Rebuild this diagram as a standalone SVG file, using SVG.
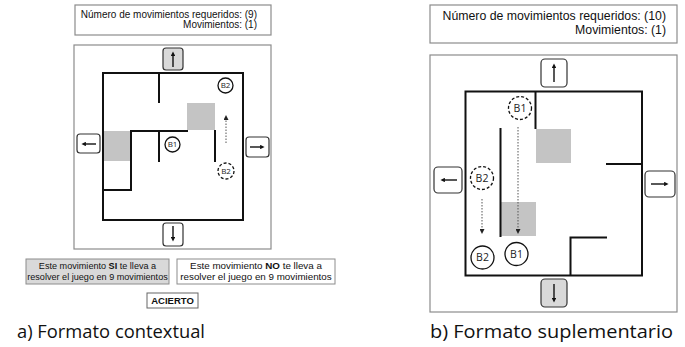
<svg xmlns="http://www.w3.org/2000/svg" width="685" height="347" viewBox="0 0 685 347">
<style>
.panel{fill:#fff;stroke:#8c8c8c;stroke-width:1.2}
.wall{stroke:#111;stroke-width:2;fill:none;stroke-linecap:square}
.maze{fill:none;stroke:#111;stroke-width:2}
.sq{fill:#c4c4c4}
.btn{fill:#fff;stroke:#333;stroke-width:1.2}
.btnsel{fill:#d9d9d9;stroke:#333;stroke-width:1.2}
.arr{stroke:#111;stroke-width:1.4;fill:none;marker-end:url(#ah)}
.dot{stroke:#555;stroke-width:1;stroke-dasharray:1.5,1.5;fill:none;marker-end:url(#ahd)}
.ball{fill:#fff;stroke:#111;stroke-width:1.3}
.ballg{fill:#fff;stroke:#111;stroke-width:1.3;stroke-dasharray:3,2}
.bl{font-family:"Open Sans",sans-serif;fill:#222;text-anchor:middle}
.t{font-family:"Liberation Sans",Arial,sans-serif;fill:#111}
.cap{font-family:"Open Sans",sans-serif;fill:#111;font-size:18.5px}
</style>
<defs>
<marker id="ah" viewBox="0 0 10 10" refX="2" refY="5" markerWidth="3.2" markerHeight="3.2" orient="auto" markerUnits="strokeWidth"><path d="M0,0 L10,5 L0,10 z" fill="#111"/></marker>
<marker id="ahd" viewBox="0 0 10 10" refX="2" refY="5" markerWidth="5" markerHeight="5" orient="auto" markerUnits="strokeWidth"><path d="M0,0 L10,5 L0,10 z" fill="#222"/></marker>
</defs>

<!-- Panel a -->
<g id="a-counter">
<rect class="panel" x="75" y="5" width="196" height="30"/>
<text class="t" font-size="10" text-anchor="end" x="257" y="17.5">Número de movimientos requeridos: (9)</text>
<text class="t" font-size="10" text-anchor="end" x="257" y="27.5">Movimientos: (1)</text>
</g>
<g id="a-board">
<rect class="panel" x="74" y="45" width="197" height="204"/>
<rect class="sq" x="187" y="103" width="28" height="27"/>
<rect class="sq" x="104" y="131" width="26" height="30"/>
<rect class="maze" x="103" y="73" width="140" height="147"/>
<path class="wall" d="M159,73 V102 M131,131 H187 M131,131 V190 H103 M159,131 V161 M215,131 V161"/>
</g>
<g id="a-btn-up"><rect class="btnsel" x="163" y="48" width="20" height="22" rx="3"/><line class="arr" x1="173" y1="67" x2="173" y2="55"/></g>
<g id="a-btn-down"><rect class="btn" x="163" y="223" width="20" height="23" rx="3"/><line class="arr" x1="173" y1="226" x2="173" y2="238"/></g>
<g id="a-btn-left"><rect class="btn" x="77" y="134" width="23" height="19" rx="3"/><line class="arr" x1="96" y1="144" x2="85" y2="144"/></g>
<g id="a-btn-right"><rect class="btn" x="246" y="137" width="23" height="20" rx="3"/><line class="arr" x1="250" y1="147" x2="261" y2="147"/></g>
<g id="a-B2"><circle class="ball" cx="225.5" cy="85.5" r="7.5"/><text class="bl" font-size="8" x="225.5" y="88.3">B2</text></g>
<g id="a-B1"><circle class="ball" cx="172.5" cy="144.5" r="7.5"/><text class="bl" font-size="8" x="172.5" y="147.3">B1</text></g>
<g id="a-B2-ghost"><circle class="ballg" cx="226" cy="171" r="8"/><text class="bl" font-size="8" x="226" y="173.8">B2</text></g>
<g id="a-connectors"><line class="dot" x1="226" y1="143" x2="226" y2="119"/></g>
<g id="a-btn-si">
<rect x="26" y="259" width="143" height="25" fill="#d9d9d9" stroke="#8c8c8c" stroke-width="1"/>
<text class="t" font-size="9.1" text-anchor="middle" x="97.5" y="268.5">Este movimiento <tspan font-weight="bold">SI</tspan> te lleva a</text>
<text class="t" font-size="9.1" text-anchor="middle" x="97.5" y="279.5">resolver el juego en 9 movimientos</text>
</g>
<g id="a-btn-no">
<rect x="177" y="259" width="158" height="25" fill="#fff" stroke="#8c8c8c" stroke-width="1"/>
<text class="t" font-size="9.8" text-anchor="middle" x="256" y="268.5">Este movimiento <tspan font-weight="bold">NO</tspan> te lleva a</text>
<text class="t" font-size="9.8" text-anchor="middle" x="256" y="279.5">resolver el juego en 9 movimientos</text>
</g>
<g id="a-acierto">
<rect x="147" y="293" width="51" height="15" fill="#fff" stroke="#666" stroke-width="1"/>
<text class="t" font-size="9.5" font-weight="bold" text-anchor="middle" x="172.5" y="304">ACIERTO</text>
</g>
<text class="cap" x="17" y="338" textLength="188" lengthAdjust="spacingAndGlyphs">a) Formato contextual</text>

<!-- Panel b -->
<g id="b-counter">
<rect class="panel" x="430" y="5" width="247" height="38"/>
<text class="t" font-size="12.3" text-anchor="end" x="666" y="19.7">Número de movimientos requeridos: (10)</text>
<text class="t" font-size="12.3" text-anchor="end" x="666" y="33.5">Movimientos: (1)</text>
</g>
<g id="b-board">
<rect class="panel" x="430" y="55" width="247" height="257"/>
<rect class="sq" x="536" y="129" width="35" height="34"/>
<rect class="sq" x="501" y="202" width="35" height="34"/>
<rect class="maze" x="465.5" y="91.5" width="176.5" height="184" stroke-width="2.2"/>
<path class="wall" stroke-width="2.2" d="M535.5,92 V128 M500.5,129 V236 M607,164 H642 M570.5,275 V237.5 H606"/>
</g>
<g id="b-btn-up"><rect class="btn" x="541" y="59" width="26" height="28" rx="4"/><line class="arr" x1="554" y1="82" x2="554" y2="67"/></g>
<g id="b-btn-down"><rect class="btnsel" x="541" y="279" width="26" height="28" rx="4"/><line class="arr" x1="554" y1="284" x2="554" y2="299"/></g>
<g id="b-btn-left"><rect class="btn" x="434" y="167" width="28" height="26" rx="4"/><line class="arr" x1="457" y1="180" x2="444" y2="180"/></g>
<g id="b-btn-right"><rect class="btn" x="645" y="171" width="30" height="26" rx="4"/><line class="arr" x1="651" y1="184" x2="665" y2="184"/></g>
<g id="b-B1-ghost"><circle class="ballg" cx="520" cy="108" r="11.5"/><text class="bl" font-size="10.5" x="520" y="111.8">B1</text></g>
<g id="b-B2-ghost"><circle class="ballg" cx="482" cy="178" r="11.5"/><text class="bl" font-size="10.5" x="482" y="181.8">B2</text></g>
<g id="b-B2"><circle class="ball" cx="482.5" cy="257.5" r="11.5"/><text class="bl" font-size="10.5" x="482.5" y="261.3">B2</text></g>
<g id="b-B1"><circle class="ball" cx="516.5" cy="254" r="11.5"/><text class="bl" font-size="10.5" x="516.5" y="257.8">B1</text></g>
<g id="b-connectors">
<line class="dot" x1="518" y1="127" x2="518" y2="230"/>
<line class="dot" x1="482" y1="199" x2="482" y2="230"/>
</g>
<text class="cap" x="430" y="338" textLength="243" lengthAdjust="spacingAndGlyphs">b) Formato suplementario</text>
</svg>
